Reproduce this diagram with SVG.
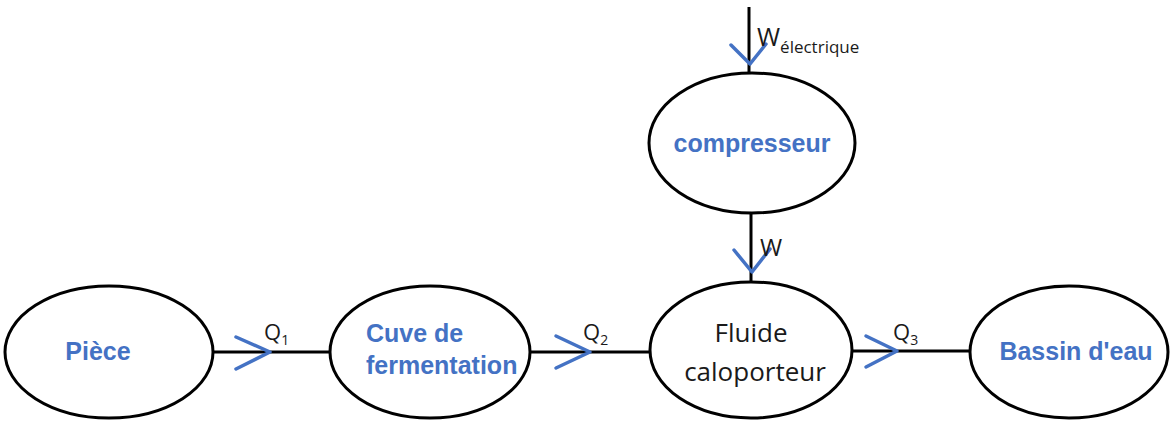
<svg xmlns="http://www.w3.org/2000/svg" width="1171" height="421" viewBox="0 0 1171 421">
<style>
.node{fill:#fff;stroke:#000;stroke-width:3}
.blue{font-family:"Liberation Sans",Arial,sans-serif;font-weight:bold;font-size:25px;fill:#4472C4;text-anchor:middle}
.blue.left{text-anchor:start}
.blk{font-family:"Open Sans","Noto Sans",sans-serif;font-size:26px;fill:#1a1a1a;text-anchor:middle}
.lbl{font-family:"Open Sans","Noto Sans",sans-serif;font-size:22px;fill:#1a1a1a}
.sub{font-size:14px}
.line{stroke:#000;stroke-width:3;fill:none}
.chev{stroke:#4472C4;stroke-width:3.5;fill:none;stroke-linecap:round;stroke-linejoin:round}
</style>
<rect width="1171" height="421" fill="#fff"/>
<g id="connectors">
<line class="line" x1="213" y1="352" x2="330" y2="352"/>
<line class="line" x1="530" y1="352" x2="650" y2="352"/>
<line class="line" x1="852" y1="351" x2="970" y2="351"/>
<line class="line" x1="749" y1="7" x2="749" y2="73"/>
<line class="line" x1="751" y1="213" x2="751" y2="283"/>
<polyline class="chev" points="236,337 270,352 236,369"/>
<polyline class="chev" points="556,336 590,352 556,368"/>
<polyline class="chev" points="866,336 897,351 866,367"/>
<polyline class="chev" points="731,45 750,64 766,44"/>
<polyline class="chev" points="734,250 752,272 770,249"/>
<text class="lbl" x="264" y="340">Q<tspan class="sub" dy="5">1</tspan></text>
<text class="lbl" x="583" y="340">Q<tspan class="sub" dy="5">2</tspan></text>
<text class="lbl" x="893" y="340">Q<tspan class="sub" dy="5">3</tspan></text>
<text class="lbl" x="757" y="46" style="font-size:25px">W<tspan style="font-size:17px" dy="7">électrique</tspan></text>
<text class="lbl" x="760" y="256" style="font-size:24px">W</text>
</g>
<g id="piece"><ellipse class="node" cx="109" cy="352" rx="104" ry="66"/><text class="blue" x="98" y="360">Pièce</text></g>
<g id="cuve"><ellipse class="node" cx="430" cy="352" rx="100" ry="66"/><text class="blue left" x="366" y="342">Cuve de</text><text class="blue left" x="366" y="374">fermentation</text></g>
<g id="fluide"><ellipse class="node" cx="751" cy="350" rx="101" ry="68"/><text class="blk" x="751" y="342">Fluide</text><text class="blk" x="755" y="381">caloporteur</text></g>
<g id="bassin"><ellipse class="node" cx="1069" cy="352" rx="99" ry="66"/><text class="blue" x="1076" y="360">Bassin d'eau</text></g>
<g id="compresseur"><ellipse class="node" cx="752" cy="143" rx="103" ry="70"/><text class="blue" x="752" y="152">compresseur</text></g>
</svg>
